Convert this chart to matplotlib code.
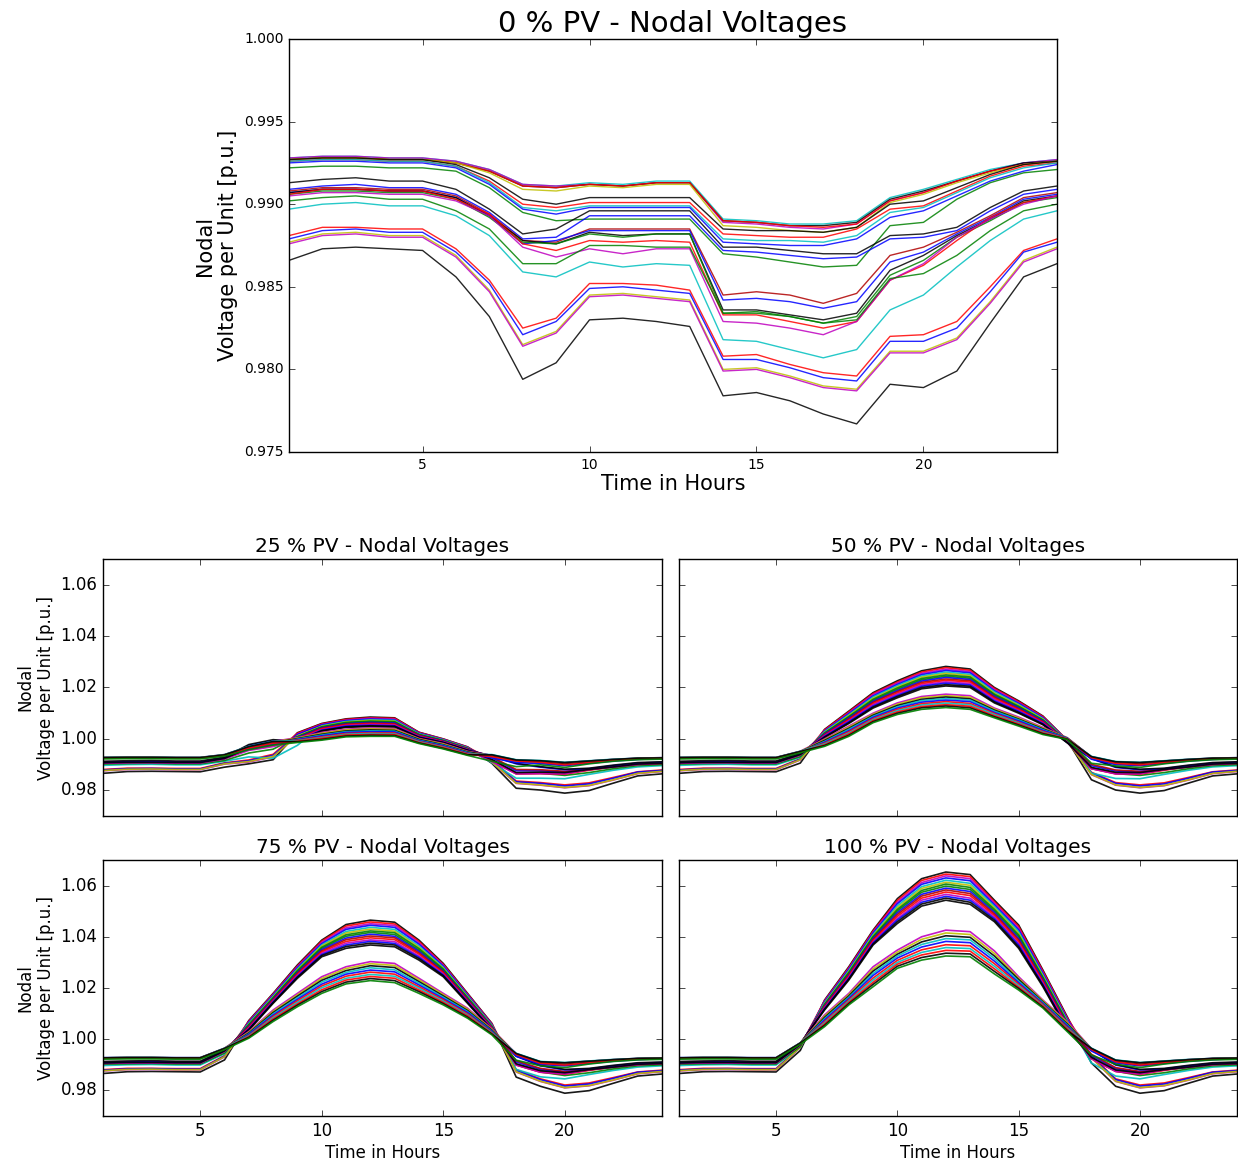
import matplotlib
matplotlib.use("Agg")
import matplotlib.pyplot as plt
from matplotlib.ticker import FormatStrFormatter, MultipleLocator

plt.style.use("classic")
plt.rcParams["font.family"] = ["DejaVu Sans"]

hours = list(range(1, 25))

# ---------------- 0 % PV : nodal voltages [p.u.], hours 1..24 ----------------
A1 = [0.9928, 0.9929, 0.9929, 0.9928, 0.9928, 0.9926, 0.9921, 0.9912, 0.9911, 0.9913, 0.9912, 0.9914, 0.9914, 0.9891, 0.9890, 0.9888, 0.9888, 0.9890, 0.9904, 0.9909, 0.9915, 0.9921, 0.9925, 0.9927]
A2 = [0.9928, 0.9929, 0.9929, 0.9928, 0.9928, 0.9926, 0.9921, 0.9912, 0.9911, 0.9912, 0.9911, 0.9913, 0.9913, 0.9889, 0.9888, 0.9886, 0.9885, 0.9888, 0.9902, 0.9907, 0.9914, 0.9920, 0.9925, 0.9927]
A3 = [0.9927, 0.9928, 0.9928, 0.9927, 0.9927, 0.9925, 0.9920, 0.9911, 0.9910, 0.9912, 0.9911, 0.9913, 0.9913, 0.9890, 0.9889, 0.9887, 0.9887, 0.9889, 0.9903, 0.9908, 0.9914, 0.9920, 0.9925, 0.9926]
A4 = [0.9927, 0.9928, 0.9928, 0.9927, 0.9927, 0.9925, 0.9920, 0.9911, 0.9910, 0.9912, 0.9911, 0.9913, 0.9913, 0.9890, 0.9889, 0.9887, 0.9886, 0.9888, 0.9902, 0.9907, 0.9914, 0.9920, 0.9924, 0.9926]
A5 = [0.9927, 0.9928, 0.9928, 0.9927, 0.9927, 0.9925, 0.9919, 0.9909, 0.9908, 0.9911, 0.9910, 0.9912, 0.9912, 0.9887, 0.9886, 0.9884, 0.9883, 0.9886, 0.9901, 0.9906, 0.9913, 0.9919, 0.9924, 0.9926]
A6 = [0.9927, 0.9928, 0.9928, 0.9927, 0.9927, 0.9924, 0.9916, 0.9903, 0.9900, 0.9904, 0.9904, 0.9904, 0.9904, 0.9885, 0.9884, 0.9884, 0.9883, 0.9886, 0.9900, 0.9902, 0.9910, 0.9918, 0.9924, 0.9926]
A7 = [0.9926, 0.9927, 0.9927, 0.9926, 0.9926, 0.9923, 0.9914, 0.9900, 0.9898, 0.9901, 0.9901, 0.9901, 0.9901, 0.9882, 0.9881, 0.9880, 0.9880, 0.9885, 0.9897, 0.9899, 0.9908, 0.9917, 0.9923, 0.9925]
A8 = [0.9926, 0.9927, 0.9927, 0.9926, 0.9926, 0.9923, 0.9913, 0.9898, 0.9896, 0.9899, 0.9899, 0.9899, 0.9899, 0.9879, 0.9878, 0.9878, 0.9877, 0.9881, 0.9895, 0.9898, 0.9907, 0.9916, 0.9922, 0.9925]
A9 = [0.9925, 0.9926, 0.9926, 0.9925, 0.9925, 0.9922, 0.9912, 0.9897, 0.9894, 0.9898, 0.9898, 0.9898, 0.9898, 0.9877, 0.9876, 0.9875, 0.9875, 0.9879, 0.9892, 0.9896, 0.9905, 0.9914, 0.9920, 0.9924]
A10 = [0.9922, 0.9923, 0.9923, 0.9922, 0.9922, 0.9920, 0.9910, 0.9895, 0.9890, 0.9891, 0.9891, 0.9891, 0.9891, 0.9870, 0.9868, 0.9865, 0.9862, 0.9863, 0.9887, 0.9889, 0.9903, 0.9913, 0.9919, 0.9921]
M1 = [0.9913, 0.9915, 0.9916, 0.9914, 0.9914, 0.9909, 0.9897, 0.9882, 0.9885, 0.9896, 0.9896, 0.9896, 0.9896, 0.9874, 0.9874, 0.9872, 0.9870, 0.9870, 0.9881, 0.9882, 0.9886, 0.9898, 0.9908, 0.9911]
M2 = [0.9909, 0.9911, 0.9912, 0.9910, 0.9910, 0.9906, 0.9895, 0.9879, 0.9880, 0.9893, 0.9893, 0.9893, 0.9893, 0.9872, 0.9871, 0.9869, 0.9867, 0.9868, 0.9879, 0.9880, 0.9884, 0.9896, 0.9906, 0.9909]
M3 = [0.9908, 0.9910, 0.9910, 0.9909, 0.9909, 0.9905, 0.9894, 0.9878, 0.9877, 0.9885, 0.9885, 0.9885, 0.9885, 0.9845, 0.9847, 0.9845, 0.9840, 0.9846, 0.9869, 0.9874, 0.9883, 0.9893, 0.9904, 0.9907]
M4 = [0.9907, 0.9909, 0.9909, 0.9908, 0.9908, 0.9904, 0.9893, 0.9876, 0.9878, 0.9884, 0.9884, 0.9884, 0.9884, 0.9842, 0.9843, 0.9841, 0.9837, 0.9841, 0.9865, 0.9871, 0.9882, 0.9892, 0.9903, 0.9906]
M5 = [0.9907, 0.9909, 0.9909, 0.9908, 0.9908, 0.9904, 0.9893, 0.9878, 0.9876, 0.9883, 0.9881, 0.9882, 0.9882, 0.9836, 0.9836, 0.9833, 0.9830, 0.9834, 0.9860, 0.9869, 0.9881, 0.9891, 0.9902, 0.9905]
M6 = [0.9906, 0.9908, 0.9908, 0.9907, 0.9907, 0.9903, 0.9892, 0.9877, 0.9876, 0.9882, 0.9880, 0.9882, 0.9882, 0.9834, 0.9835, 0.9832, 0.9828, 0.9832, 0.9857, 0.9866, 0.9880, 0.9890, 0.9901, 0.9904]
M7 = [0.9906, 0.9909, 0.9909, 0.9908, 0.9908, 0.9903, 0.9894, 0.9876, 0.9872, 0.9878, 0.9877, 0.9878, 0.9877, 0.9833, 0.9833, 0.9829, 0.9825, 0.9829, 0.9854, 0.9863, 0.9878, 0.9892, 0.9901, 0.9905]
M8 = [0.9905, 0.9907, 0.9907, 0.9906, 0.9906, 0.9902, 0.9893, 0.9874, 0.9868, 0.9873, 0.9870, 0.9873, 0.9873, 0.9829, 0.9828, 0.9825, 0.9821, 0.9829, 0.9854, 0.9864, 0.9880, 0.9891, 0.9900, 0.9905]
M9 = [0.9902, 0.9904, 0.9905, 0.9903, 0.9903, 0.9896, 0.9885, 0.9864, 0.9864, 0.9875, 0.9875, 0.9874, 0.9874, 0.9834, 0.9834, 0.9832, 0.9828, 0.9830, 0.9855, 0.9858, 0.9869, 0.9884, 0.9896, 0.9900]
M10 = [0.9897, 0.9900, 0.9901, 0.9899, 0.9899, 0.9893, 0.9881, 0.9859, 0.9856, 0.9865, 0.9862, 0.9864, 0.9863, 0.9818, 0.9817, 0.9812, 0.9807, 0.9812, 0.9836, 0.9845, 0.9862, 0.9878, 0.9891, 0.9896]
L1 = [0.9881, 0.9886, 0.9886, 0.9885, 0.9885, 0.9873, 0.9854, 0.9825, 0.9831, 0.9852, 0.9852, 0.9851, 0.9848, 0.9808, 0.9809, 0.9803, 0.9798, 0.9796, 0.9820, 0.9821, 0.9829, 0.9850, 0.9872, 0.9879]
L2 = [0.9879, 0.9884, 0.9885, 0.9883, 0.9883, 0.9871, 0.9852, 0.9821, 0.9829, 0.9849, 0.9850, 0.9848, 0.9846, 0.9806, 0.9806, 0.9801, 0.9795, 0.9793, 0.9817, 0.9817, 0.9825, 0.9847, 0.9871, 0.9877]
L3 = [0.9877, 0.9882, 0.9883, 0.9881, 0.9881, 0.9869, 0.9848, 0.9815, 0.9823, 0.9845, 0.9846, 0.9844, 0.9842, 0.9800, 0.9801, 0.9796, 0.9790, 0.9788, 0.9811, 0.9811, 0.9819, 0.9841, 0.9866, 0.9874]
L4 = [0.9876, 0.9881, 0.9882, 0.9880, 0.9880, 0.9868, 0.9847, 0.9814, 0.9822, 0.9844, 0.9845, 0.9843, 0.9841, 0.9799, 0.9800, 0.9795, 0.9789, 0.9787, 0.9810, 0.9810, 0.9818, 0.9840, 0.9865, 0.9873]
L5 = [0.9866, 0.9873, 0.9874, 0.9873, 0.9872, 0.9856, 0.9832, 0.9794, 0.9804, 0.9830, 0.9831, 0.9829, 0.9826, 0.9784, 0.9786, 0.9781, 0.9773, 0.9767, 0.9791, 0.9789, 0.9799, 0.9828, 0.9856, 0.9864]

node_names = ["A1", "A2", "A3", "A4", "A5", "A6", "A7", "A8", "A9", "A10",
              "M1", "M2", "M3", "M4", "M5", "M6", "M7", "M8", "M9", "M10",
              "L1", "L2", "L3", "L4", "L5"]
base = {"A1": A1, "A2": A2, "A3": A3, "A4": A4, "A5": A5, "A6": A6, "A7": A7,
        "A8": A8, "A9": A9, "A10": A10, "M1": M1, "M2": M2, "M3": M3, "M4": M4,
        "M5": M5, "M6": M6, "M7": M7, "M8": M8, "M9": M9, "M10": M10,
        "L1": L1, "L2": L2, "L3": L3, "L4": L4, "L5": L5}

# ------------- PV cases: hours 6..19 (rows), one value per node (columns) -------------
pv_hours = list(range(6, 20))
pv_columns = ["L5", "L1", "L4", "L2", "M10", "L3", "M9", "M6", "M4", "M3", "M7", "M8", "M2", "M5", "M1",
              "A2", "A5", "A6", "A8", "A9", "A4", "A1", "A7", "A3", "A10"]

pv25 = [
    [0.9890, 0.9907, 0.9902, 0.9905, 0.9913, 0.9903, 0.9916, 0.9923, 0.9924, 0.9925, 0.9923, 0.9922, 0.9926, 0.9924, 0.9929, 0.9939, 0.9938, 0.9937, 0.9936, 0.9935, 0.9938, 0.9939, 0.9936, 0.9938, 0.9933],
    [0.9903, 0.9918, 0.9910, 0.9915, 0.9930, 0.9912, 0.9945, 0.9962, 0.9966, 0.9968, 0.9960, 0.9955, 0.9975, 0.9964, 0.9978, 0.9970, 0.9969, 0.9967, 0.9963, 0.9962, 0.9969, 0.9971, 0.9964, 0.9970, 0.9958],
    [0.9919, 0.9940, 0.9930, 0.9936, 0.9925, 0.9932, 0.9960, 0.9978, 0.9982, 0.9985, 0.9975, 0.9970, 0.9993, 0.9980, 0.9997, 0.9990, 0.9988, 0.9985, 0.9981, 0.9980, 0.9989, 0.9991, 0.9983, 0.9990, 0.9976],
    [1.0024, 1.0022, 1.0019, 1.0017, 0.9975, 1.0012, 1.0009, 1.0007, 1.0005, 1.0002, 1.0000, 0.9997, 0.9995, 0.9992, 0.9990, 1.0005, 1.0003, 1.0001, 0.9999, 0.9997, 0.9995, 0.9993, 0.9991, 0.9989, 0.9986],
    [1.0060, 1.0058, 1.0056, 1.0054, 1.0051, 1.0049, 1.0047, 1.0045, 1.0043, 1.0041, 1.0039, 1.0036, 1.0034, 1.0032, 1.0030, 1.0025, 1.0022, 1.0018, 1.0015, 1.0012, 1.0008, 1.0005, 1.0002, 0.9998, 0.9995],
    [1.0078, 1.0076, 1.0073, 1.0071, 1.0068, 1.0066, 1.0064, 1.0062, 1.0059, 1.0057, 1.0055, 1.0052, 1.0050, 1.0047, 1.0045, 1.0038, 1.0035, 1.0031, 1.0028, 1.0025, 1.0021, 1.0018, 1.0015, 1.0011, 1.0008],
    [1.0085, 1.0082, 1.0080, 1.0077, 1.0074, 1.0072, 1.0069, 1.0067, 1.0064, 1.0061, 1.0059, 1.0056, 1.0053, 1.0051, 1.0048, 1.0042, 1.0039, 1.0035, 1.0031, 1.0028, 1.0024, 1.0021, 1.0017, 1.0014, 1.0010],
    [1.0082, 1.0080, 1.0077, 1.0074, 1.0072, 1.0069, 1.0067, 1.0064, 1.0062, 1.0059, 1.0056, 1.0054, 1.0051, 1.0049, 1.0046, 1.0040, 1.0037, 1.0033, 1.0030, 1.0027, 1.0023, 1.0020, 1.0017, 1.0013, 1.0010],
    [1.0026, 1.0025, 1.0023, 1.0022, 1.0020, 1.0018, 1.0017, 1.0016, 1.0014, 1.0013, 1.0011, 1.0009, 1.0008, 1.0006, 1.0005, 1.0002, 1.0000, 0.9998, 0.9995, 0.9993, 0.9991, 0.9989, 0.9986, 0.9984, 0.9982],
    [1.0000, 0.9999, 0.9998, 0.9997, 0.9996, 0.9995, 0.9994, 0.9993, 0.9992, 0.9990, 0.9989, 0.9988, 0.9987, 0.9986, 0.9985, 0.9982, 0.9980, 0.9977, 0.9975, 0.9973, 0.9970, 0.9968, 0.9966, 0.9963, 0.9961],
    [0.9969, 0.9968, 0.9967, 0.9966, 0.9965, 0.9964, 0.9963, 0.9962, 0.9961, 0.9960, 0.9959, 0.9958, 0.9957, 0.9956, 0.9955, 0.9952, 0.9950, 0.9949, 0.9947, 0.9945, 0.9943, 0.9941, 0.9940, 0.9938, 0.9936],
    [0.9905, 0.9918, 0.9909, 0.9915, 0.9907, 0.9910, 0.9918, 0.9918, 0.9927, 0.9930, 0.9915, 0.9911, 0.9932, 0.9920, 0.9935, 0.9936, 0.9934, 0.9934, 0.9928, 0.9926, 0.9937, 0.9939, 0.9931, 0.9938, 0.9913],
    [0.9808, 0.9836, 0.9827, 0.9833, 0.9847, 0.9828, 0.9865, 0.9867, 0.9876, 0.9881, 0.9864, 0.9864, 0.9903, 0.9869, 0.9905, 0.9917, 0.9915, 0.9915, 0.9910, 0.9908, 0.9917, 0.9919, 0.9914, 0.9918, 0.9892],
    [0.9801, 0.9830, 0.9820, 0.9827, 0.9847, 0.9821, 0.9866, 0.9868, 0.9876, 0.9880, 0.9865, 0.9865, 0.9890, 0.9871, 0.9892, 0.9914, 0.9913, 0.9912, 0.9907, 0.9904, 0.9914, 0.9916, 0.9909, 0.9915, 0.9899],
]

pv50 = [
    [0.9906, 0.9923, 0.9918, 0.9921, 0.9928, 0.9919, 0.9931, 0.9938, 0.9939, 0.9940, 0.9938, 0.9937, 0.9941, 0.9939, 0.9944, 0.9952, 0.9951, 0.9950, 0.9949, 0.9948, 0.9951, 0.9952, 0.9949, 0.9951, 0.9946],
    [1.0037, 1.0035, 1.0032, 1.0030, 1.0028, 1.0025, 1.0023, 1.0021, 1.0019, 1.0016, 1.0014, 1.0012, 1.0010, 1.0007, 1.0005, 1.0000, 0.9997, 0.9994, 0.9990, 0.9987, 0.9984, 0.9981, 0.9977, 0.9974, 0.9971],
    [1.0108, 1.0105, 1.0101, 1.0098, 1.0094, 1.0091, 1.0087, 1.0084, 1.0081, 1.0077, 1.0074, 1.0070, 1.0067, 1.0063, 1.0060, 1.0050, 1.0046, 1.0041, 1.0037, 1.0032, 1.0028, 1.0023, 1.0019, 1.0014, 1.0010],
    [1.0180, 1.0176, 1.0172, 1.0167, 1.0163, 1.0158, 1.0154, 1.0150, 1.0146, 1.0142, 1.0137, 1.0133, 1.0128, 1.0124, 1.0120, 1.0100, 1.0096, 1.0092, 1.0088, 1.0084, 1.0079, 1.0075, 1.0071, 1.0067, 1.0063],
    [1.0226, 1.0221, 1.0217, 1.0212, 1.0207, 1.0202, 1.0198, 1.0193, 1.0188, 1.0184, 1.0179, 1.0174, 1.0169, 1.0165, 1.0160, 1.0140, 1.0135, 1.0130, 1.0125, 1.0120, 1.0115, 1.0110, 1.0105, 1.0100, 1.0095],
    [1.0265, 1.0260, 1.0255, 1.0250, 1.0245, 1.0240, 1.0235, 1.0230, 1.0225, 1.0220, 1.0215, 1.0210, 1.0205, 1.0200, 1.0195, 1.0165, 1.0160, 1.0154, 1.0149, 1.0143, 1.0137, 1.0132, 1.0126, 1.0121, 1.0115],
    [1.0282, 1.0277, 1.0271, 1.0266, 1.0260, 1.0255, 1.0249, 1.0244, 1.0239, 1.0233, 1.0228, 1.0222, 1.0217, 1.0211, 1.0206, 1.0174, 1.0168, 1.0163, 1.0157, 1.0151, 1.0145, 1.0139, 1.0133, 1.0128, 1.0122],
    [1.0272, 1.0267, 1.0262, 1.0257, 1.0251, 1.0246, 1.0241, 1.0236, 1.0231, 1.0226, 1.0221, 1.0215, 1.0210, 1.0205, 1.0200, 1.0168, 1.0162, 1.0156, 1.0151, 1.0145, 1.0138, 1.0133, 1.0127, 1.0121, 1.0115],
    [1.0200, 1.0196, 1.0192, 1.0187, 1.0183, 1.0178, 1.0174, 1.0170, 1.0166, 1.0162, 1.0157, 1.0153, 1.0148, 1.0144, 1.0140, 1.0120, 1.0116, 1.0112, 1.0108, 1.0103, 1.0099, 1.0095, 1.0090, 1.0086, 1.0082],
    [1.0148, 1.0145, 1.0141, 1.0138, 1.0134, 1.0131, 1.0127, 1.0124, 1.0121, 1.0117, 1.0114, 1.0110, 1.0107, 1.0103, 1.0100, 1.0085, 1.0081, 1.0077, 1.0074, 1.0070, 1.0065, 1.0062, 1.0058, 1.0054, 1.0050],
    [1.0089, 1.0087, 1.0084, 1.0082, 1.0079, 1.0077, 1.0074, 1.0072, 1.0070, 1.0067, 1.0065, 1.0062, 1.0060, 1.0057, 1.0055, 1.0045, 1.0042, 1.0039, 1.0036, 1.0033, 1.0029, 1.0026, 1.0023, 1.0020, 1.0017],
    [0.9995, 0.9994, 0.9994, 0.9993, 0.9992, 0.9991, 0.9991, 0.9990, 0.9989, 0.9989, 0.9988, 0.9987, 0.9986, 0.9986, 0.9985, 1.0005, 1.0004, 1.0003, 1.0003, 1.0002, 1.0001, 1.0000, 1.0000, 0.9999, 0.9998],
    [0.9841, 0.9870, 0.9861, 0.9867, 0.9867, 0.9862, 0.9885, 0.9887, 0.9896, 0.9901, 0.9884, 0.9884, 0.9923, 0.9889, 0.9925, 0.9930, 0.9928, 0.9928, 0.9923, 0.9921, 0.9930, 0.9932, 0.9927, 0.9931, 0.9905],
    [0.9801, 0.9830, 0.9820, 0.9827, 0.9846, 0.9821, 0.9865, 0.9867, 0.9875, 0.9879, 0.9864, 0.9864, 0.9889, 0.9870, 0.9891, 0.9910, 0.9909, 0.9908, 0.9903, 0.9900, 0.9910, 0.9912, 0.9905, 0.9911, 0.9895],
]

pv75 = [
    [0.9919, 0.9936, 0.9931, 0.9934, 0.9943, 0.9932, 0.9946, 0.9953, 0.9954, 0.9955, 0.9953, 0.9952, 0.9956, 0.9954, 0.9959, 0.9965, 0.9964, 0.9963, 0.9962, 0.9961, 0.9964, 0.9965, 0.9962, 0.9964, 0.9959],
    [1.0073, 1.0070, 1.0068, 1.0065, 1.0062, 1.0059, 1.0057, 1.0054, 1.0051, 1.0049, 1.0046, 1.0043, 1.0040, 1.0038, 1.0035, 1.0030, 1.0027, 1.0024, 1.0021, 1.0019, 1.0015, 1.0013, 1.0010, 1.0007, 1.0004],
    [1.0179, 1.0176, 1.0174, 1.0171, 1.0168, 1.0165, 1.0162, 1.0160, 1.0157, 1.0154, 1.0151, 1.0148, 1.0146, 1.0143, 1.0140, 1.0114, 1.0109, 1.0104, 1.0099, 1.0094, 1.0089, 1.0084, 1.0079, 1.0074, 1.0069],
    [1.0290, 1.0286, 1.0283, 1.0279, 1.0275, 1.0271, 1.0268, 1.0264, 1.0260, 1.0257, 1.0253, 1.0249, 1.0245, 1.0242, 1.0238, 1.0179, 1.0173, 1.0168, 1.0162, 1.0156, 1.0150, 1.0144, 1.0138, 1.0133, 1.0127],
    [1.0387, 1.0383, 1.0378, 1.0373, 1.0368, 1.0364, 1.0359, 1.0355, 1.0350, 1.0345, 1.0341, 1.0336, 1.0331, 1.0327, 1.0322, 1.0244, 1.0237, 1.0230, 1.0223, 1.0215, 1.0208, 1.0201, 1.0193, 1.0186, 1.0179],
    [1.0448, 1.0442, 1.0435, 1.0429, 1.0421, 1.0415, 1.0408, 1.0402, 1.0395, 1.0389, 1.0382, 1.0375, 1.0368, 1.0362, 1.0355, 1.0283, 1.0276, 1.0268, 1.0261, 1.0254, 1.0246, 1.0238, 1.0231, 1.0223, 1.0216],
    [1.0465, 1.0458, 1.0451, 1.0445, 1.0437, 1.0430, 1.0423, 1.0417, 1.0410, 1.0403, 1.0396, 1.0388, 1.0382, 1.0375, 1.0368, 1.0303, 1.0295, 1.0287, 1.0279, 1.0270, 1.0262, 1.0253, 1.0245, 1.0237, 1.0229],
    [1.0457, 1.0450, 1.0444, 1.0437, 1.0429, 1.0422, 1.0416, 1.0409, 1.0402, 1.0396, 1.0389, 1.0381, 1.0374, 1.0368, 1.0361, 1.0296, 1.0288, 1.0280, 1.0271, 1.0263, 1.0254, 1.0246, 1.0238, 1.0229, 1.0221],
    [1.0387, 1.0382, 1.0376, 1.0371, 1.0364, 1.0359, 1.0354, 1.0348, 1.0343, 1.0337, 1.0332, 1.0325, 1.0320, 1.0315, 1.0309, 1.0238, 1.0232, 1.0225, 1.0219, 1.0212, 1.0205, 1.0199, 1.0192, 1.0186, 1.0179],
    [1.0296, 1.0292, 1.0289, 1.0285, 1.0281, 1.0277, 1.0274, 1.0270, 1.0266, 1.0263, 1.0259, 1.0255, 1.0251, 1.0248, 1.0244, 1.0179, 1.0174, 1.0169, 1.0164, 1.0159, 1.0154, 1.0149, 1.0144, 1.0139, 1.0134],
    [1.0179, 1.0176, 1.0174, 1.0171, 1.0168, 1.0165, 1.0162, 1.0160, 1.0157, 1.0154, 1.0151, 1.0148, 1.0146, 1.0143, 1.0140, 1.0121, 1.0117, 1.0112, 1.0108, 1.0104, 1.0099, 1.0095, 1.0091, 1.0086, 1.0082],
    [1.0062, 1.0060, 1.0058, 1.0056, 1.0054, 1.0052, 1.0050, 1.0049, 1.0047, 1.0045, 1.0043, 1.0041, 1.0039, 1.0037, 1.0035, 1.0040, 1.0038, 1.0035, 1.0032, 1.0030, 1.0027, 1.0025, 1.0022, 1.0020, 1.0017],
    [0.9852, 0.9881, 0.9872, 0.9878, 0.9882, 0.9873, 0.9900, 0.9902, 0.9911, 0.9916, 0.9899, 0.9899, 0.9933, 0.9904, 0.9935, 0.9943, 0.9941, 0.9941, 0.9936, 0.9934, 0.9943, 0.9945, 0.9940, 0.9944, 0.9918],
    [0.9816, 0.9845, 0.9835, 0.9842, 0.9853, 0.9836, 0.9872, 0.9874, 0.9882, 0.9886, 0.9871, 0.9871, 0.9896, 0.9877, 0.9898, 0.9911, 0.9910, 0.9909, 0.9904, 0.9901, 0.9911, 0.9913, 0.9906, 0.9912, 0.9896],
]

pv100 = [
    [0.9956, 0.9973, 0.9968, 0.9971, 0.9968, 0.9969, 0.9971, 0.9978, 0.9979, 0.9980, 0.9978, 0.9977, 0.9981, 0.9979, 0.9984, 0.9986, 0.9985, 0.9984, 0.9983, 0.9982, 0.9985, 0.9986, 0.9983, 0.9985, 0.9980],
    [1.0153, 1.0150, 1.0148, 1.0145, 1.0142, 1.0139, 1.0136, 1.0134, 1.0131, 1.0128, 1.0125, 1.0122, 1.0120, 1.0117, 1.0114, 1.0095, 1.0090, 1.0085, 1.0080, 1.0075, 1.0069, 1.0064, 1.0059, 1.0054, 1.0049],
    [1.0283, 1.0279, 1.0276, 1.0272, 1.0268, 1.0264, 1.0261, 1.0257, 1.0253, 1.0250, 1.0246, 1.0242, 1.0238, 1.0235, 1.0231, 1.0179, 1.0174, 1.0169, 1.0164, 1.0159, 1.0154, 1.0149, 1.0144, 1.0139, 1.0134],
    [1.0426, 1.0422, 1.0418, 1.0414, 1.0409, 1.0405, 1.0401, 1.0397, 1.0393, 1.0389, 1.0385, 1.0380, 1.0376, 1.0372, 1.0368, 1.0283, 1.0274, 1.0266, 1.0257, 1.0249, 1.0239, 1.0231, 1.0222, 1.0214, 1.0205],
    [1.0549, 1.0542, 1.0535, 1.0529, 1.0521, 1.0514, 1.0507, 1.0501, 1.0494, 1.0487, 1.0480, 1.0472, 1.0466, 1.0459, 1.0452, 1.0348, 1.0340, 1.0332, 1.0325, 1.0317, 1.0308, 1.0300, 1.0293, 1.0285, 1.0277],
    [1.0627, 1.0620, 1.0612, 1.0605, 1.0596, 1.0589, 1.0581, 1.0574, 1.0566, 1.0559, 1.0551, 1.0543, 1.0535, 1.0528, 1.0520, 1.0400, 1.0390, 1.0380, 1.0370, 1.0360, 1.0349, 1.0339, 1.0329, 1.0319, 1.0309],
    [1.0653, 1.0645, 1.0638, 1.0630, 1.0621, 1.0613, 1.0606, 1.0598, 1.0590, 1.0583, 1.0575, 1.0566, 1.0558, 1.0551, 1.0543, 1.0426, 1.0415, 1.0404, 1.0393, 1.0382, 1.0369, 1.0358, 1.0347, 1.0336, 1.0325],
    [1.0643, 1.0635, 1.0627, 1.0619, 1.0609, 1.0601, 1.0593, 1.0585, 1.0577, 1.0569, 1.0561, 1.0551, 1.0543, 1.0535, 1.0527, 1.0420, 1.0409, 1.0398, 1.0388, 1.0377, 1.0365, 1.0354, 1.0344, 1.0333, 1.0322],
    [1.0543, 1.0537, 1.0531, 1.0525, 1.0519, 1.0513, 1.0507, 1.0501, 1.0495, 1.0489, 1.0483, 1.0477, 1.0471, 1.0465, 1.0459, 1.0345, 1.0335, 1.0325, 1.0315, 1.0305, 1.0295, 1.0285, 1.0275, 1.0265, 1.0255],
    [1.0446, 1.0440, 1.0433, 1.0427, 1.0420, 1.0413, 1.0407, 1.0401, 1.0394, 1.0388, 1.0381, 1.0374, 1.0368, 1.0361, 1.0355, 1.0244, 1.0238, 1.0233, 1.0227, 1.0221, 1.0215, 1.0209, 1.0203, 1.0198, 1.0192],
    [1.0270, 1.0266, 1.0261, 1.0256, 1.0251, 1.0247, 1.0242, 1.0238, 1.0233, 1.0228, 1.0224, 1.0219, 1.0214, 1.0210, 1.0205, 1.0153, 1.0150, 1.0146, 1.0143, 1.0139, 1.0136, 1.0132, 1.0129, 1.0125, 1.0122],
    [1.0088, 1.0084, 1.0081, 1.0077, 1.0073, 1.0069, 1.0066, 1.0062, 1.0058, 1.0055, 1.0051, 1.0047, 1.0043, 1.0040, 1.0036, 1.0069, 1.0065, 1.0060, 1.0056, 1.0052, 1.0047, 1.0043, 1.0039, 1.0034, 1.0030],
    [0.9907, 0.9936, 0.9927, 0.9933, 0.9907, 0.9928, 0.9925, 0.9927, 0.9936, 0.9941, 0.9924, 0.9924, 0.9958, 0.9929, 0.9960, 0.9963, 0.9961, 0.9961, 0.9956, 0.9954, 0.9963, 0.9965, 0.9960, 0.9964, 0.9938],
    [0.9816, 0.9845, 0.9835, 0.9842, 0.9856, 0.9836, 0.9875, 0.9877, 0.9885, 0.9889, 0.9874, 0.9874, 0.9899, 0.9880, 0.9901, 0.9917, 0.9916, 0.9915, 0.9910, 0.9907, 0.9917, 0.9919, 0.9912, 0.9918, 0.9902],
]

pv_levels = [25, 50, 75, 100]
pv_tables = {25: pv25, 50: pv50, 75: pv75, 100: pv100}

# ---------------- styles ----------------
node_colors = {"A1": "c", "A2": "m", "A3": "k", "A4": "r", "A5": "y", "A6": "k", "A7": "r",
               "A8": "c", "A9": "b", "A10": "g", "M1": "k", "M2": "b", "M3": "#b00000",
               "M4": "b", "M5": "k", "M6": "g", "M7": "r", "M8": "m", "M9": "g", "M10": "c",
               "L1": "r", "L2": "b", "L3": "y", "L4": "m", "L5": "k"}
classic = {"b": (0, 0, 1), "g": (0, 0.5, 0), "r": (1, 0, 0), "c": (0, 0.75, 0.75),
           "m": (0.75, 0, 0.75), "y": (0.75, 0.75, 0), "k": (0, 0, 0)}


def col(name):
    c = node_colors[name]
    return classic.get(c, c)


def pv_series(table, name):
    j = pv_columns.index(name)
    day = [row[j] for row in table]
    b = base[name]
    return b[:5] + day + b[19:]


W, H = 1238, 1166
fig = plt.figure(figsize=(W / 100, H / 100), dpi=100, facecolor="white")


def frac(x0, y0, x1, y1):
    return [x0 / W, 1 - y1 / H, (x1 - x0) / W, (y1 - y0) / H]


# ---------------- top panel ----------------
ax0 = fig.add_axes(frac(289, 39, 1057, 452))
for name in node_names:
    ax0.plot(hours, base[name], color=col(name), lw=1.0, alpha=0.85)
ax0.set_xlim(1, 24)
ax0.set_ylim(0.975, 1.000)
ax0.yaxis.set_major_locator(MultipleLocator(0.005))
ax0.yaxis.set_major_formatter(FormatStrFormatter("%.3f"))
ax0.set_xticks([5, 10, 15, 20])
ax0.tick_params(labelsize=10)
ax0.set_title("0 % PV - Nodal Voltages", fontsize=21, pad=5)
ax0.set_xlabel("Time in Hours", fontsize=15, labelpad=2)
ax0.set_ylabel("Nodal\nVoltage per Unit [p.u.]", fontsize=15, labelpad=4)

# ---------------- PV panels ----------------
boxes = {25: (103, 559, 662, 816), 50: (679, 559, 1237, 816),
         75: (103, 860, 662, 1116), 100: (679, 860, 1237, 1116)}
for lvl in pv_levels:
    ax = fig.add_axes(frac(*boxes[lvl]))
    for name in pv_columns:
        ax.plot(hours, pv_series(pv_tables[lvl], name), color=col(name), lw=1.2, alpha=0.9)
    ax.set_xlim(1, 24)
    ax.set_ylim(0.97, 1.07)
    ax.set_yticks([0.98, 1.00, 1.02, 1.04, 1.06])
    ax.yaxis.set_major_formatter(FormatStrFormatter("%.2f"))
    ax.set_xticks([5, 10, 15, 20])
    ax.tick_params(labelsize=12)
    ax.set_title("%d %% PV - Nodal Voltages" % lvl, fontsize=14.5, pad=5)
    if lvl in (25, 75):
        ax.set_ylabel("Nodal\nVoltage per Unit [p.u.]", fontsize=12, labelpad=4)
    else:
        ax.tick_params(labelleft=False)
    if lvl in (75, 100):
        ax.set_xlabel("Time in Hours", fontsize=12, labelpad=3)
    else:
        ax.tick_params(labelbottom=False)

fig.savefig("out.png", dpi=100, facecolor="white")
